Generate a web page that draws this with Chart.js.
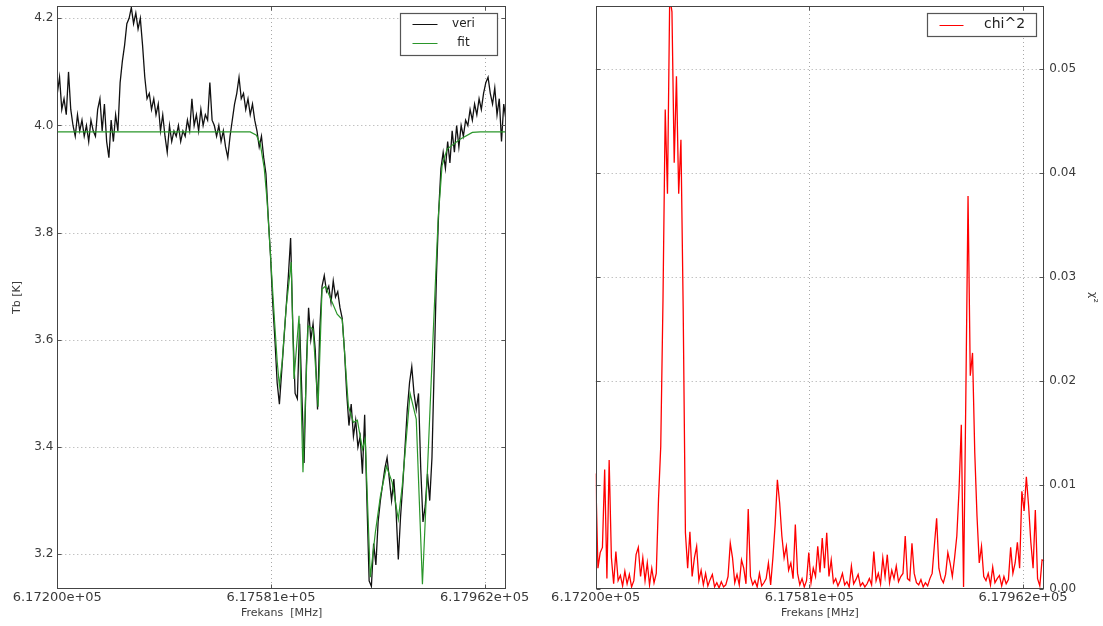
<!DOCTYPE html>
<html><head><meta charset="utf-8">
<script src="https://cdn.jsdelivr.net/npm/chart.js@4.4.1/dist/chart.umd.min.js"></script>
<style>
html,body{margin:0;padding:0;background:#fff;}
#wrap{position:relative;width:1103px;height:626px;overflow:hidden;}
#c1{position:absolute;left:0;top:0;}
#c2{position:absolute;left:540px;top:0;}
</style></head><body>
<div id="wrap"><canvas id="c1" width="540" height="626"></canvas><canvas id="c2" width="563" height="626"></canvas></div>
<script>
// ---------- data ----------
const freqStart = 617200;   // MHz, first channel
const freqStep = 4;         // MHz between sampled channels
const xTickValues = [617200, 617581, 617962];
const tbTickValues = [3.2, 3.4, 3.6, 3.8, 4.0, 4.2];
const chiTickValues = [0, 0.01, 0.02, 0.03, 0.04, 0.05];

const veriTb = [
  4.06, 4.09, 4.03, 4.05, 4.02, 4.10, 4.03, 4.00, 3.98, 4.02,
  3.99, 4.01, 3.98, 4.00, 3.97, 4.01, 3.99, 3.98, 4.03, 4.05,
  3.99, 4.04, 3.97, 3.94, 4.01, 3.97, 4.02, 3.99, 4.08, 4.12,
  4.15, 4.19, 4.20, 4.22, 4.19, 4.21, 4.18, 4.20, 4.15, 4.09,
  4.05, 4.06, 4.03, 4.05, 4.02, 4.04, 3.99, 4.02, 3.98, 3.95,
  4.00, 3.97, 3.99, 3.98, 4.00, 3.97, 3.99, 3.98, 4.01, 3.99,
  4.05, 4.00, 4.02, 3.99, 4.03, 4.00, 4.02, 4.01, 4.08, 4.01,
  4.00, 3.98, 4.00, 3.97, 3.99, 3.96, 3.94, 3.98, 4.01, 4.04,
  4.06, 4.09, 4.05, 4.06, 4.03, 4.05, 4.02, 4.04, 4.01, 3.99,
  3.96, 3.98, 3.94, 3.91, 3.83, 3.76, 3.67, 3.60, 3.52, 3.48,
  3.54, 3.60, 3.66, 3.72, 3.79, 3.62, 3.50, 3.49, 3.63, 3.50,
  3.37, 3.55, 3.66, 3.60, 3.63, 3.58, 3.47, 3.62, 3.70, 3.72,
  3.69, 3.70, 3.67, 3.71, 3.68, 3.69, 3.66, 3.64, 3.58, 3.50,
  3.44, 3.48, 3.42, 3.45, 3.40, 3.42, 3.35, 3.46, 3.30, 3.15,
  3.14, 3.22, 3.18, 3.26, 3.30, 3.33, 3.36, 3.38, 3.34, 3.30,
  3.34, 3.28, 3.19, 3.27, 3.33, 3.40, 3.47, 3.52, 3.55, 3.50,
  3.47, 3.50, 3.36, 3.26, 3.29, 3.35, 3.30, 3.38, 3.55, 3.72,
  3.84, 3.92, 3.95, 3.92, 3.97, 3.93, 3.99, 3.95, 4.00, 3.96,
  4.00, 3.98, 4.01, 4.00, 4.03, 4.01, 4.04, 4.02, 4.05, 4.03,
  4.06, 4.08, 4.09, 4.06, 4.04, 4.07, 4.02, 4.05, 3.97, 4.04,
  4.01
];

const fitFreq = [
  617200, 617544, 617555, 617562, 617569, 617574, 617580, 617587, 617592, 617596,
  617601, 617608, 617617, 617622, 617631, 617638, 617647, 617656, 617665, 617672,
  617678, 617699, 617708, 617719, 617728, 617735, 617744, 617749, 617758, 617767,
  617776, 617787, 617797, 617808, 617815, 617829, 617840, 617851, 617860, 617870,
  617879, 617886, 617895, 617919, 617940, 617954, 618000
];
const fitTb = [
  3.988, 3.988, 3.982, 3.965, 3.920, 3.860, 3.760, 3.640, 3.560, 3.514,
  3.560, 3.660, 3.745, 3.527, 3.645, 3.353, 3.626, 3.620, 3.475, 3.695,
  3.700, 3.648, 3.638, 3.476, 3.446, 3.450, 3.396, 3.415, 3.157, 3.240,
  3.308, 3.364, 3.334, 3.265, 3.327, 3.500, 3.452, 3.144, 3.358, 3.607,
  3.825, 3.925, 3.956, 3.975, 3.987, 3.988, 3.988
];

const chi2 = [
  0.0111, 0.0020, 0.0035, 0.0040, 0.0115, 0.0010, 0.0124, 0.0030, 0.0005, 0.0036,
  0.0008, 0.0013, 0.0003, 0.0017, 0.0005, 0.0014, 0.0002, 0.0008, 0.0033, 0.0040,
  0.0012, 0.0030, 0.0008, 0.0025, 0.0004, 0.0020, 0.0006, 0.0015, 0.0086, 0.0137,
  0.0278, 0.0461, 0.0380, 0.0570, 0.0555, 0.0410, 0.0493, 0.0380, 0.0432, 0.0270,
  0.0054, 0.0020, 0.0055, 0.0012, 0.0030, 0.0041, 0.0008, 0.0018, 0.0004, 0.0015,
  0.0003, 0.0009, 0.0014, 0.0002, 0.0006, 0.0001, 0.0007, 0.0002, 0.0004, 0.0012,
  0.0044, 0.0030, 0.0006, 0.0014, 0.0004, 0.0028, 0.0020, 0.0005, 0.0077, 0.0012,
  0.0004, 0.0008, 0.0002, 0.0015, 0.0003, 0.0006, 0.0010, 0.0025, 0.0004, 0.0030,
  0.0062, 0.0105, 0.0083, 0.0051, 0.0030, 0.0041, 0.0018, 0.0025, 0.0010, 0.0062,
  0.0015, 0.0004, 0.0010, 0.0002, 0.0008, 0.0035, 0.0006, 0.0020, 0.0012, 0.0041,
  0.0016, 0.0049, 0.0020, 0.0054, 0.0012, 0.0028, 0.0006, 0.0010, 0.0003, 0.0008,
  0.0015, 0.0004, 0.0007, 0.0002, 0.0022, 0.0005, 0.0009, 0.0014, 0.0003, 0.0006,
  0.0002, 0.0005, 0.0010, 0.0004, 0.0036, 0.0008, 0.0015, 0.0005, 0.0030, 0.0012,
  0.0033, 0.0006, 0.0018, 0.0010, 0.0022, 0.0007, 0.0012, 0.0015, 0.0051, 0.0010,
  0.0008, 0.0044, 0.0015, 0.0006, 0.0004, 0.0009, 0.0002, 0.0006, 0.0003, 0.0010,
  0.0015, 0.0042, 0.0068, 0.0020, 0.0010, 0.0006, 0.0014, 0.0035, 0.0025, 0.0012,
  0.0030, 0.0051, 0.0096, 0.0158, 0.0002, 0.0182, 0.0378, 0.0205, 0.0227, 0.0131,
  0.0070, 0.0025, 0.0041, 0.0012, 0.0008, 0.0015, 0.0004, 0.0021, 0.0006, 0.0010,
  0.0013, 0.0003, 0.0012, 0.0005, 0.0009, 0.0040, 0.0015, 0.0025, 0.0045, 0.0020,
  0.0094, 0.0075, 0.0108, 0.0080, 0.0045, 0.0020, 0.0076, 0.0010, 0.0003, 0.0028,
  0.0027
];

const freq = veriTb.map((_, i) => freqStart + i * freqStep);

// ---------- helpers ----------
const FONT = "'DejaVu Sans', sans-serif";
const TXT = '#3a3a3a';
function sciLabel(v) {
  return Number(v).toExponential(5).replace(/e([+-])(\d)$/, 'e$10$2');
}
function fixedTicks(values) {
  return s => { s.ticks = values.map(v => ({ value: v })); };
}
function noVertPad(w) {
  return s => { s.width = w; s.paddingTop = 0; s.paddingBottom = 0; };
}

const framePlugin = {
  id: 'frame',
  beforeDatasetsDraw(chart) {
    const { ctx, chartArea: a } = chart;
    ctx.save();
    ctx.strokeStyle = '#a8a8a8';
    ctx.lineWidth = 1;
    ctx.setLineDash([1, 3]);
    ctx.beginPath();
    const xs = chart.scales.x, ys = chart.scales.y;
    xs.ticks.forEach(t => {
      const p = Math.round(xs.getPixelForValue(t.value)) + 0.5;
      if (p - a.left < 3 || a.right - p < 3) return;
      ctx.moveTo(p, a.top); ctx.lineTo(p, a.bottom);
    });
    ys.ticks.forEach(t => {
      const p = Math.round(ys.getPixelForValue(t.value)) + 0.5;
      if (p - a.top < 3 || a.bottom - p < 3) return;
      ctx.moveTo(a.left, p); ctx.lineTo(a.right, p);
    });
    ctx.stroke();
    ctx.restore();
  },
  afterDraw(chart, args, opts) {
    const { ctx, chartArea: a } = chart;
    const L = Math.round(a.left) + 0.5, R = Math.round(a.right) - 0.5;
    const T = Math.round(a.top) + 0.5, B = Math.round(a.bottom) - 0.5;
    ctx.save();
    ctx.lineWidth = 1;
    ctx.strokeStyle = '#555';
    ctx.beginPath();
    const xs = chart.scales.x;
    xs.ticks.forEach(t => {
      const p = Math.round(xs.getPixelForValue(t.value)) + 0.5;
      ctx.moveTo(p, T); ctx.lineTo(p, T + 4);
      ctx.moveTo(p, B); ctx.lineTo(p, B - 4);
    });
    const ys = chart.scales.y;
    ys.ticks.forEach(t => {
      const p = Math.round(ys.getPixelForValue(t.value)) + 0.5;
      ctx.moveTo(L, p); ctx.lineTo(L + 4, p);
      ctx.moveTo(R, p); ctx.lineTo(R - 4, p);
    });
    ctx.stroke();
    ctx.strokeStyle = '#444';
    ctx.strokeRect(L, T, R - L, B - T);
    const lg = opts.legend;
    if (lg) {
      const bx = Math.round(a.right - lg.right) + 0.5, by = Math.round(a.top + lg.top) + 0.5;
      ctx.fillStyle = '#fff';
      ctx.fillRect(bx, by, lg.w, lg.h);
      ctx.strokeStyle = '#555';
      ctx.lineWidth = 1.2;
      ctx.strokeRect(bx, by, lg.w, lg.h);
      ctx.font = lg.fontSize + 'px ' + FONT;
      ctx.textAlign = 'center';
      ctx.textBaseline = 'middle';
      lg.items.forEach(it => {
        const y = by + it.dy;
        ctx.strokeStyle = it.color;
        ctx.lineWidth = 1;
        ctx.beginPath();
        ctx.moveTo(bx + lg.lineX0, Math.round(y) + 0.5);
        ctx.lineTo(bx + lg.lineX1, Math.round(y) + 0.5);
        ctx.stroke();
        ctx.fillStyle = '#222';
        ctx.fillText(it.label, bx + lg.textX, y);
      });
    }
    ctx.restore();
  }
};

function makeX(titleText) {
  return {
    type: 'linear', min: 617200, max: 618000,
    afterBuildTicks: fixedTicks(xTickValues),
    afterFit: s => { s.height = 37; },
    ticks: { callback: sciLabel, padding: 1, maxRotation: 0, minRotation: 0, autoSkip: false,
             color: TXT, font: { family: FONT, size: 13 } },
    grid: { display: false, drawTicks: false },
    border: { display: false },
    title: { display: true, text: titleText, color: TXT, font: { family: FONT, size: 11 },
             padding: { top: 0, bottom: 6 } }
  };
}

// ---------- left chart ----------
new Chart(document.getElementById('c1'), {
  type: 'line',
  data: {
    datasets: [
      { label: 'fit', data: fitFreq.map((f, i) => ({ x: f, y: fitTb[i] })),
        borderColor: '#2a962a', borderWidth: 1.2, pointRadius: 0, tension: 0, order: 0 },
      { label: 'veri', data: freq.map((f, i) => ({ x: f, y: veriTb[i] })),
        borderColor: '#111', borderWidth: 1.3, pointRadius: 0, tension: 0, order: 1 }
    ]
  },
  options: {
    responsive: false, animation: false, devicePixelRatio: 1,
    layout: { padding: { left: 0, top: 6, right: 34, bottom: 0 } },
    plugins: {
      legend: { display: false }, tooltip: { enabled: false },
      frame: { legend: { right: 106, top: 6.7, w: 97, h: 42, lineX0: 12, lineX1: 37, textX: 63, fontSize: 12,
        items: [{ label: 'veri', color: '#111', dy: 10.6 }, { label: 'fit', color: '#2a962a', dy: 29.6 }] } }
    },
    scales: {
      x: makeX('Frekans  [MHz]'),
      y: {
        type: 'linear', position: 'left', min: 3.135, max: 4.223,
        afterBuildTicks: fixedTicks(tbTickValues),
        afterFit: noVertPad(57.3),
        ticks: { callback: v => Number(v).toFixed(1), padding: 4, color: TXT, font: { family: FONT, size: 12 } },
        grid: { display: false, drawTicks: false },
        border: { display: false },
        title: { display: true, text: 'Tb [K]', color: TXT, font: { family: FONT, size: 11 },
                 padding: { top: 11, bottom: 0 } }
      }
    }
  },
  plugins: [framePlugin]
});

// ---------- right chart ----------
new Chart(document.getElementById('c2'), {
  type: 'line',
  data: {
    datasets: [
      { label: 'chi^2', data: freq.map((f, i) => ({ x: f, y: chi2[i] })),
        borderColor: '#ff0000', borderWidth: 1.3, pointRadius: 0, tension: 0 }
    ]
  },
  options: {
    responsive: false, animation: false, devicePixelRatio: 1,
    layout: { padding: { left: 55.7, top: 6, right: 0, bottom: 0 } },
    plugins: {
      legend: { display: false }, tooltip: { enabled: false },
      frame: { legend: { right: 117.6, top: 7, w: 109, h: 23, lineX0: 12, lineX1: 36, textX: 77, fontSize: 14,
        items: [{ label: 'chi^2', color: '#ff0000', dy: 11 }] } }
    },
    scales: {
      x: makeX('Frekans [MHz]'),
      y: {
        type: 'linear', position: 'right', min: 0, max: 0.05606,
        afterBuildTicks: fixedTicks(chiTickValues),
        afterFit: noVertPad(58.7),
        ticks: { callback: v => Number(v).toFixed(2), padding: 5, color: TXT, font: { family: FONT, size: 12 } },
        grid: { display: false, drawTicks: false },
        border: { display: false },
        title: { display: true, text: 'χ²', color: TXT, font: { family: FONT, size: 11 },
                 padding: { top: 4, bottom: 0 } }
      }
    }
  },
  plugins: [framePlugin]
});
</script>
</body></html>
